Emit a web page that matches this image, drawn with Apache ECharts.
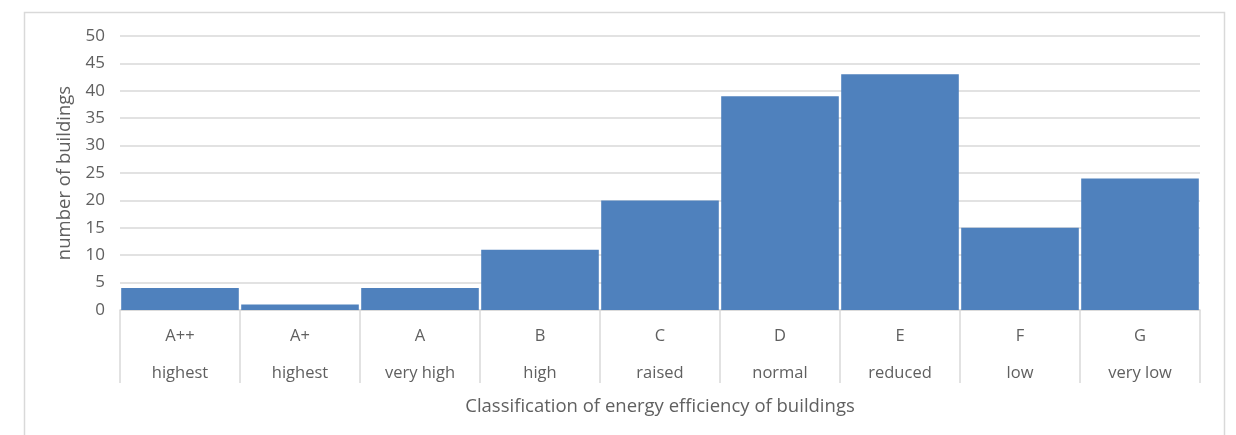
<!DOCTYPE html>
<html>
<head>
<meta charset="utf-8">
<script src="https://cdn.jsdelivr.net/npm/echarts@6/dist/echarts.min.js"></script>
<style>
  html, body { margin: 0; padding: 0; background: #ffffff; }
  #chart { width: 1236px; height: 435px; }
</style>
</head>
<body>
<div id="chart"></div>
<script>
// Energy efficiency classes and their descriptions
const classCodes = ['A++', 'A+', 'A', 'B', 'C', 'D', 'E', 'F', 'G'];
const classNames = ['highest', 'highest', 'very high', 'high', 'raised', 'normal', 'reduced', 'low', 'very low'];
// Number of buildings in each class
const buildingCounts = [4, 1, 4, 11, 20, 39, 43, 15, 24];

const textColor = '#606060';
const lineColor = '#d9d9d9';
const fontFamily = '"Open Sans", "Liberation Sans", sans-serif';

const chart = echarts.init(document.getElementById('chart'), null, { renderer: 'canvas' });

chart.setOption({
  animation: false,
  backgroundColor: '#ffffff',
  textStyle: { fontFamily: fontFamily },
  graphic: [{
    type: 'rect',
    shape: { x: 24.5, y: 12.5, width: 1200, height: 500 },
    style: { fill: 'none', stroke: lineColor, lineWidth: 1.5 },
    silent: true,
    z: -1
  }],
  grid: { left: 120, right: 36, top: 36, bottom: 125 },
  xAxis: {
    type: 'category',
    data: classCodes,
    name: 'Classification of energy efficiency of buildings',
    nameLocation: 'middle',
    nameGap: 83,
    nameTextStyle: { color: textColor, fontSize: 18.5, fontFamily: fontFamily },
    axisLine: { show: true, lineStyle: { color: lineColor, width: 1.5 } },
    axisTick: { show: true, length: 73, interval: 0, lineStyle: { color: lineColor, width: 1.5 } },
    axisLabel: {
      interval: 0,
      margin: 8,
      color: textColor,
      fontSize: 16.5,
      lineHeight: 37,
      fontFamily: fontFamily,
      formatter: function (value, idx) {
        return value + '\n' + classNames[idx];
      }
    },
    splitLine: { show: false }
  },
  yAxis: {
    type: 'value',
    min: 0,
    max: 50,
    interval: 5,
    name: 'number of buildings',
    nameLocation: 'middle',
    nameRotate: 90,
    nameGap: 44,
    nameTextStyle: { color: textColor, fontSize: 18.5, fontFamily: fontFamily },
    axisLine: { show: false },
    axisTick: { show: false },
    axisLabel: { color: textColor, fontSize: 17, margin: 15, fontFamily: fontFamily },
    splitLine: { show: true, lineStyle: { color: lineColor, width: 1.5 } }
  },
  series: [{
    type: 'bar',
    data: buildingCounts,
    barWidth: '98%',
    itemStyle: { color: '#4f81bd' }
  }]
});
</script>
</body>
</html>
